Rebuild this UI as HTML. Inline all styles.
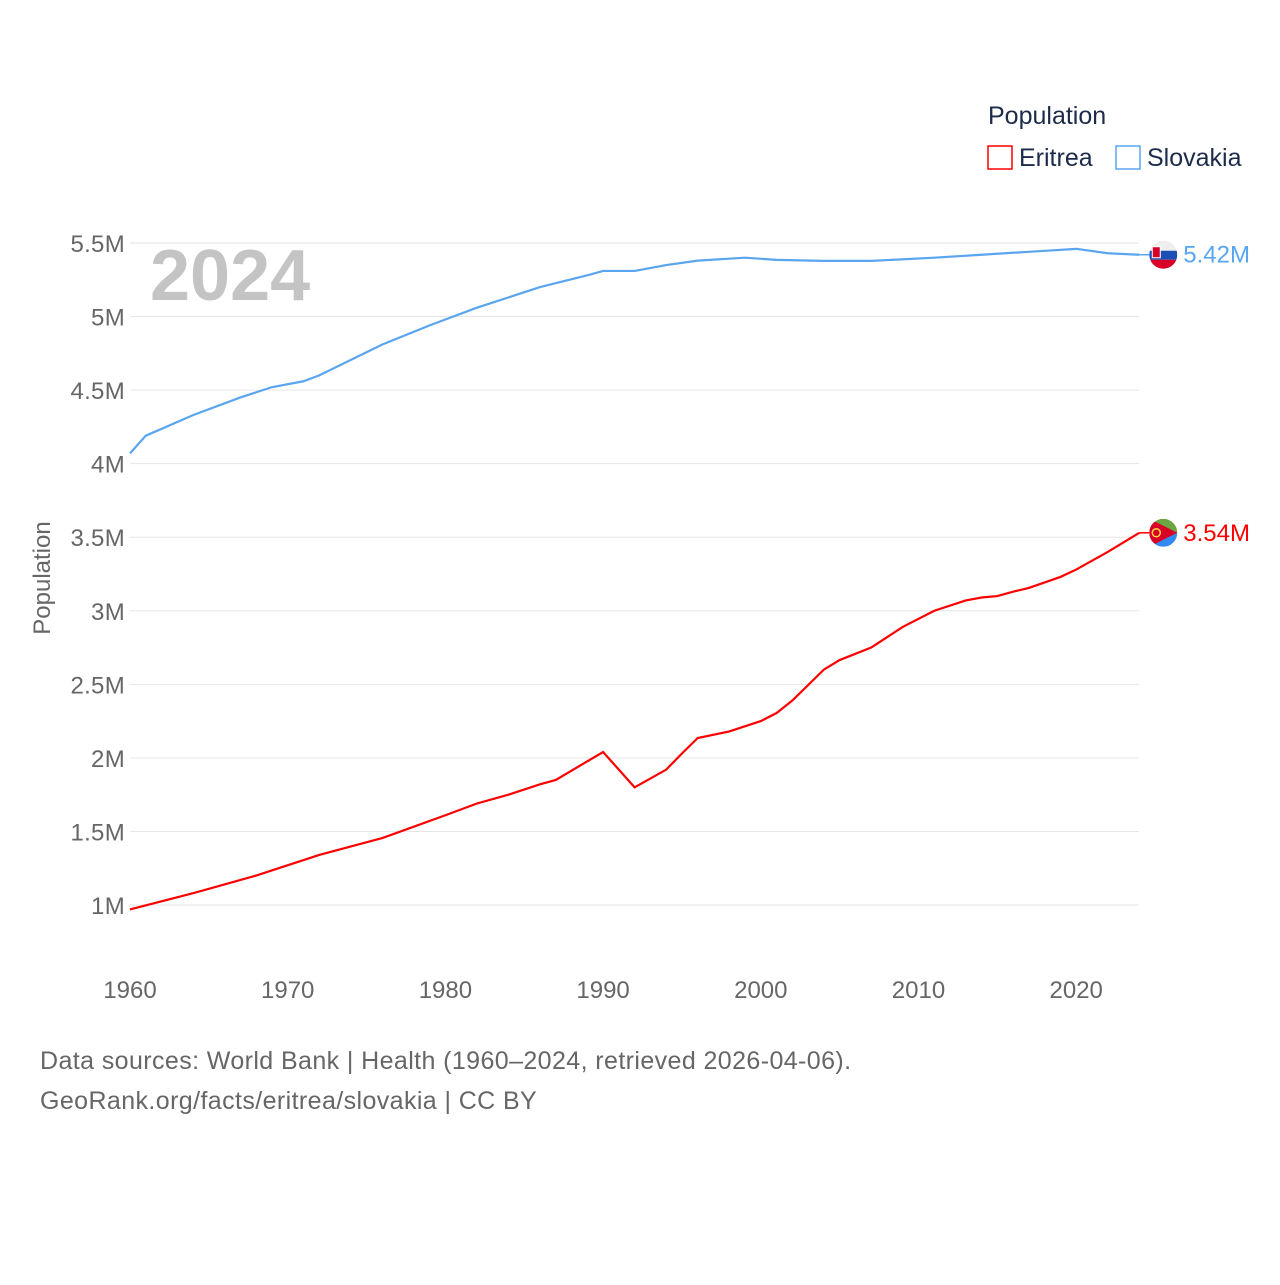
<!DOCTYPE html>
<html><head><meta charset="utf-8"><style>
body{margin:0;background:#fff;font-family:"Liberation Sans",sans-serif;}
svg text{font-family:"Liberation Sans",sans-serif;}
</style></head><body>
<svg id="chart" width="1280" height="1280" xmlns="http://www.w3.org/2000/svg">
<defs>
<clipPath id="c1"><circle cx="0" cy="0" r="14"/></clipPath>
</defs>
<text x="988" y="124" font-size="25" fill="#1d2b4a">Population</text>
<g><rect x="988" y="146" width="24" height="23" fill="none" stroke="#ff0000" stroke-width="1.5"/><text x="1019" y="166" font-size="25" fill="#1d2b4a">Eritrea</text></g>
<g><rect x="1116" y="146" width="24" height="23" fill="none" stroke="#5aa5ef" stroke-width="1.5"/><text x="1147" y="166" font-size="25" fill="#1d2b4a">Slovakia</text></g>
<text x="150" y="300" font-size="72" font-weight="bold" fill="#c4c4c4">2024</text>
<g id="grid"></g><g id="yt"></g><g id="xt"></g><g id="lines"></g>
<text transform="translate(50,578) rotate(-90)" text-anchor="middle" font-size="24" fill="#666">Population</text>
<text x="40" y="1069" font-size="25" fill="#666" letter-spacing="0.4">Data sources: World Bank | Health (1960–2024, retrieved 2026-04-06).</text>
<text x="40" y="1109" font-size="25" fill="#666" letter-spacing="0.4">GeoRank.org/facts/eritrea/slovakia | CC BY</text>
</svg>
<script>
const yTicks=[1,1.5,2,2.5,3,3.5,4,4.5,5,5.5];
const yTickLabels=["1M","1.5M","2M","2.5M","3M","3.5M","4M","4.5M","5M","5.5M"];
const xTicks=[1960,1970,1980,1990,2000,2010,2020];
const skYears=[1960,1961,1964,1967,1969,1971,1972,1976,1979,1982,1986,1989,1990,1992,1994,1996,1999,2001,2004,2007,2011,2014,2017,2020,2022,2024];
const skVals=[4.07,4.19,4.33,4.45,4.52,4.56,4.60,4.81,4.94,5.06,5.20,5.28,5.31,5.31,5.35,5.38,5.40,5.385,5.378,5.378,5.40,5.42,5.44,5.46,5.43,5.42];
const erYears=[1960,1964,1968,1972,1976,1980,1982,1984,1986,1987,1990,1992,1994,1995,1996,1998,2000,2001,2002,2004,2005,2007,2009,2011,2013,2014,2015,2016,2017,2019,2020,2022,2024];
const erVals=[0.97,1.08,1.20,1.34,1.455,1.61,1.69,1.75,1.82,1.85,2.04,1.80,1.92,2.03,2.135,2.18,2.25,2.305,2.39,2.60,2.665,2.75,2.89,3.00,3.07,3.09,3.10,3.13,3.155,3.23,3.28,3.40,3.53];
const NS="http://www.w3.org/2000/svg";
const X=y=>130+(y-1960)*15.77;
const Y=v=>905-(v-1)*147.12;
function mk(t,a,p){const e=document.createElementNS(NS,t);for(const k in a)e.setAttribute(k,a[k]);p.appendChild(e);return e;}
const g=document.getElementById('grid'),yt=document.getElementById('yt'),xt=document.getElementById('xt'),L=document.getElementById('lines');
yTicks.forEach((v,i)=>{
 const l=mk('line',{x1:130,x2:1139,y1:Y(v),y2:Y(v),stroke:'#e6e6e6','stroke-width':1},g);
 
 
 const t=mk('text',{x:125,y:Y(v)+9,'text-anchor':'end','font-size':24,fill:'#666','letter-spacing':0.3},yt);t.textContent=yTickLabels[i];
 
 
});
xTicks.forEach(v=>{
 const t=mk('text',{x:X(v),y:998,'text-anchor':'middle','font-size':24,fill:'#666'},xt);t.textContent=v;
 
 
});
function flag(cx,cy,kind,p){
 const gg=mk('g',{transform:`translate(${cx},${cy})`,'clip-path':'url(#c1)'},p);
 
 
 if(kind==='slovakia'){
  mk('rect',{x:-14,y:-14,width:28,height:10,fill:'#eeeeee'},gg);
  mk('rect',{x:-14,y:-4,width:28,height:9,fill:'#1a4fb5'},gg);
  mk('rect',{x:-14,y:5,width:28,height:10,fill:'#d80027'},gg);
  mk('rect',{x:-11,y:-8,width:8,height:11,fill:'#d80027',stroke:'#fff','stroke-width':1},gg);
 } else {
  mk('rect',{x:-14,y:-14,width:28,height:14,fill:'#6da544'},gg);
  mk('rect',{x:-14,y:0,width:28,height:14,fill:'#338af3'},gg);
  mk('polygon',{points:'-14,-14 14,0 -14,14',fill:'#d80027'},gg);
  mk('circle',{cx:-7,cy:0,r:4,fill:'none',stroke:'#ffda44','stroke-width':1.5},gg);
 }
}
function line(ys,vs,c,name,lab){
 const p=mk('path',{d:ys.map((y,i)=>(i?'L':'M')+X(y)+','+Y(vs[i])).join(''),fill:'none',stroke:c,'stroke-width':2.2},L);
 
 
 const lx=X(ys[ys.length-1]),ly=Y(vs[vs.length-1]);
 mk('line',{x1:lx,x2:lx+10,y1:ly,y2:ly,stroke:c,'stroke-width':1.5},L);
 flag(lx+24,ly,name,L);
 const t=mk('text',{x:lx+44,y:ly+8,'font-size':24,fill:c},L);t.textContent=lab;
 
 
}
line(skYears,skVals,'#5aa5ef','slovakia','5.42M');
line(erYears,erVals,'#ff0000','eritrea','3.54M');
</script>
</body></html>
